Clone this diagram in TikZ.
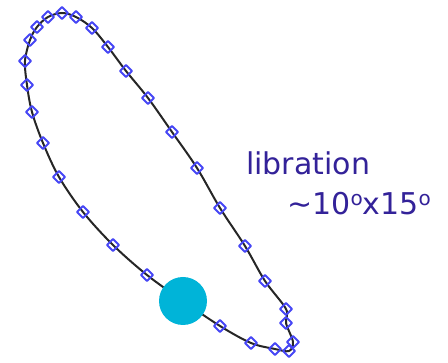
\documentclass[tikz,border=0pt]{standalone}
\usepackage{fontspec}
\setmainfont{DejaVu Sans}
\definecolor{orbitmark}{RGB}{70, 70, 245}
\definecolor{bodycyan}{RGB}{0, 180, 216}
\definecolor{labelblue}{RGB}{51, 34, 153}

\begin{document}
\begin{tikzpicture}[
        x=1pt, y=-1pt,
        orbit/.style={draw=black!85, line width=2pt},
        marker/.style={draw=orbitmark, line width=2pt, line join=round},
        body/.style={circle, fill=bodycyan, minimum size=48pt, inner sep=0pt},
        label/.style={text=labelblue, anchor=base west, inner sep=0pt,
                      font=\fontsize{30}{40}\selectfont}
    ]
        \useasboundingbox (0,0) rectangle (448,363);

        % Libration path
        \draw[orbit] plot[smooth cycle, tension=0.55] coordinates {
            (62,13) (48,17) (37,27) (30,40) (25,61) (27,85) (32,112)
            (43,143) (59,177) (83,212) (113,245) (147,275) (183,301)
            (220,326) (251,343) (275,349) (289,351) (293,342) (286,323)
            (286,309) (265,281) (245,246) (220,208) (197,168) (172,132)
            (148,98) (126,71) (108,47) (92,28) (76,17)};

        % Sample markers
        \foreach \px/\py in {62/13, 48/17, 37/27, 30/40, 25/61, 27/85, 32/112,
                             43/143, 59/177, 83/212, 113/245, 147/275,
                             220/326, 251/343, 275/349, 289/351, 293/342, 286/323,
                             286/309, 265/281, 245/246, 220/208, 197/168, 172/132,
                             148/98, 126/71, 108/47, 92/28, 76/17}
            \draw[marker] (\px,\py) ++(-6,0) -- ++(6,-6) -- ++(6,6) -- ++(-6,6) -- cycle;

        % Current position
        \node[body] (pos) at (183,301) {};

        % Amplitude label
        \node[label] (lib) at (246,175) {libration};
        \node[label] (amp) at (287,215)
            {\char"7E 10\raisebox{9pt}{\fontsize{20}{20}\selectfont o}x15\raisebox{9pt}{\fontsize{20}{20}\selectfont o}};
    \end{tikzpicture}
\end{document}
